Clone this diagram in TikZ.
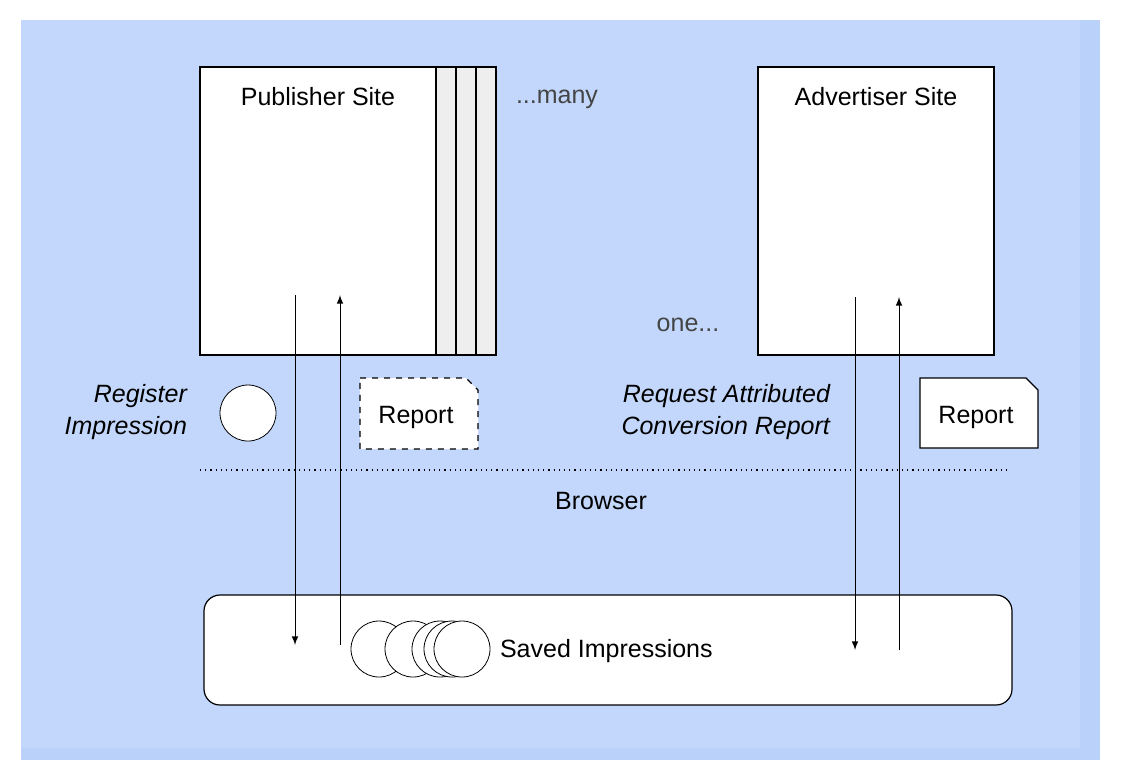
\documentclass[tikz,border=0pt]{standalone}
\usepackage{fontspec}
\setmainfont{Liberation Sans}
\usetikzlibrary{calc}
\definecolor{bgblue}{HTML}{C2D7FB}
\definecolor{bgedge}{HTML}{BAD1FA}
\definecolor{pgray}{HTML}{EEEEEE}
\definecolor{dgray}{HTML}{444444}
\tikzset
{
    % Style for the site pages
    page/.style=
    {
        draw,
        fill=white,
        line width=0.6pt
    },
    % Style for the pages behind the publisher
    back page/.style=
    {
        page,
        fill=pgray
    },
    % Style for the flows between site and browser
    flow/.style=
    {
        line width=0.5pt,
        -latex
    },
    % Style for an impression
    impression/.style=
    {
        draw,
        fill=white,
        circle,
        minimum size=28pt,
        inner sep=0pt
    },
    % Style for the italic labels
    action/.style=
    {
        font=\fontsize{12.5}{16}\selectfont\itshape,
        align=right,
        anchor=east
    },
    % Style for reports
    report/.style=
    {
        draw,
        fill=white,
        line width=0.6pt
    },
    label text/.style=
    {
        font=\fontsize{12.5}{15}\selectfont
    }
}
\begin{document}
\begin{tikzpicture}[x=0.5pt,y=-0.5pt,every node/.style={label text}]
    \path [use as bounding box] (0,0) rectangle (1128,773);

    % Background
    \fill[bgedge] (21,20) rectangle (1100,760);
    \fill[bgblue] (21,20) rectangle (1080,748);

    % Publisher with many pages behind
    \foreach \x in {476,456,436}
        \draw[back page] (\x,67) rectangle (\x+20,355);
    \draw[page] (200,67) rectangle (436,355);
    \node (pub) at (318,97) {Publisher Site};
    \node[text=dgray] (many) at (557,99) {...many};

    % Advertiser
    \draw[page] (758,67) rectangle (994,355);
    \node (adv) at (876,97) {Advertiser Site};
    \node[text=dgray] (one) at (688,325) {one...};

    % Browser
    \draw[page, rounded corners=8pt] (204,595) rectangle (1012,705);
    \draw[dotted, line width=0.6pt] (200,470) -- (1010,470);
    \node (browser) at (601,501) {Browser};

    % Flows
    \coordinate (pd1) at (295,295); \coordinate (pd2) at (295,645);
    \coordinate (pu1) at (340,645); \coordinate (pu2) at (340,295);
    \coordinate (ad1) at (855,297); \coordinate (ad2) at (855,650);
    \coordinate (au1) at (899,650); \coordinate (au2) at (899,297);
    \draw[flow] (pd1) -- (pd2);
    \draw[flow] (pu1) -- (pu2);
    \draw[flow] (ad1) -- (ad2);
    \draw[flow] (au1) -- (au2);

    % Register impression
    \node[action] (reg) at (194,412) {Register\\Impression};
    \node[impression] (imp) at (248,413) {};

    % Reports
    \draw[report, dashed] (360,378) -- (466,378) -- (478,390) -- (478,449) -- (360,449) -- cycle;
    \node (rep1) at (416,417) {Report};
    \node[action] (req) at (837,412) {Request Attributed\\Conversion Report};
    \draw[report] (920,378) -- (1026,378) -- (1038,390) -- (1038,448) -- (920,448) -- cycle;
    \node (rep2) at (976,417) {Report};

    % Saved impressions
    \foreach \x/\n in {379/s1,413/s2,440/s3,452/s4,462/s5}
        \node[impression] (\n) at (\x,649) {};
    \node[anchor=west] (saved) at (493,651) {Saved Impressions};
\end{tikzpicture}
\end{document}
